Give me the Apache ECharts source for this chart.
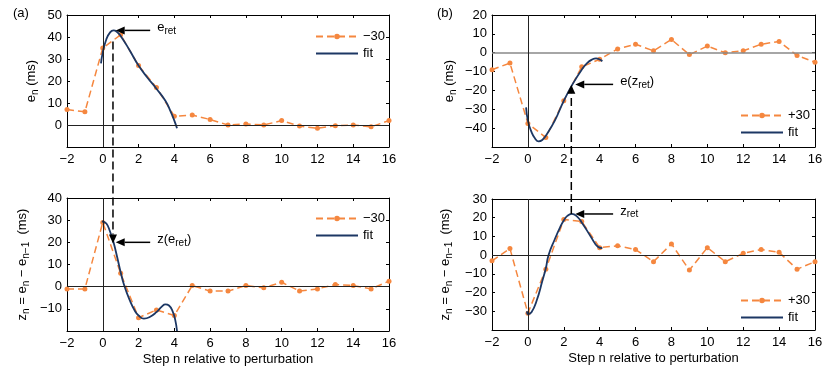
<!DOCTYPE html>
<html>
<head>
<meta charset="utf-8">
<script src="https://cdn.jsdelivr.net/npm/echarts@6/dist/echarts.min.js"></script>
<style>
html, body { margin: 0; padding: 0; background: #fff; }
#main { width: 830px; height: 372px; }
</style>
</head>
<body>
<div id="main"></div>
<script>
// step index relative to perturbation
const steps = [-2, -1, 0, 1, 2, 3, 4, 5, 6, 7, 8, 9, 10, 11, 12, 13, 14, 15, 16];

// (a) -30 perturbation
const eMinus30 = [7, 6, 35, 41, 27, 17, 4, 4.5, 2.5, 0, 0.5, 0, 2, -0.5, -1.5, -0.3, 0, -0.8, 2];
const zMinus30 = [-1, -1, 29, 6, -14, -10.5, -13, 0.5, -2, -2, 0.5, -0.5, 2, -2, -1, 1, 0.5, -1, 2.5];
// (b) +30 perturbation
const ePlus30 = [-9, -5.5, -37.5, -45, -25.5, -7.5, -3.5, 2, 4.5, 1, 7, -1, 3.5, 0, 1, 4.5, 6, -1.5, -5];
const zPlus30 = [-3, 3.5, -31, -7.5, 19, 18, 4, 5, 3, -3.5, 6, -8, 4, -3.5, 1, 3, 1.5, -7.5, -3.5];

// fitted curves
const fitAeX = [-0.1, 0, 0.2, 0.4, 0.6, 0.8, 1.0, 1.5, 2.0, 2.5, 3.0, 3.5, 3.8, 4.0, 4.15];
const fitAeY = [28, 33, 39, 42, 43, 42.3, 40.5, 34, 27, 21.5, 16.5, 11, 6, 2, -1.5];
const fitAzX = [-0.05, 0.2, 0.4, 0.6, 0.8, 1.0, 1.2, 1.5, 1.8, 2.0, 2.3, 2.6, 3.0, 3.3, 3.5, 3.7, 3.9, 4.05, 4.15];
const fitAzY = [29.5, 28.5, 25, 20, 13.5, 6.5, 0.5, -6, -11, -13, -14.4, -13.8, -11.5, -9, -8, -8.5, -11, -15, -20];
const fitBeX = [-0.1, 0, 0.2, 0.4, 0.6, 0.8, 1.0, 1.5, 2.0, 2.5, 3.0, 3.3, 3.6, 3.8, 4.0, 4.15];
const fitBeY = [-29, -36, -42, -45.5, -47, -46.3, -44, -36, -25.5, -16.5, -9, -5.5, -3.5, -3, -3.6, -4.5];
const fitBzX = [-0.05, 0, 0.2, 0.5, 0.8, 1.0, 1.15, 1.5, 1.8, 2.0, 2.2, 2.45, 2.7, 3.0, 3.5, 3.9, 4.15];
const fitBzY = [-30, -31.5, -30.5, -24, -14, -7, 0, 8.5, 15, 18.5, 21, 22, 21, 17.5, 10, 4.5, 3.8];

// annotation points
const retA = { x: 0.57, eFrom: 38, zTip: 19.5, ePeak: 43, zAt: 20, tailX: 2.65, headX: 0.72 };
const retB = { x: 2.42, zFrom: 22, eTip: -17, eAt: -16.8, zPeak: 22, tailX: 4.75, headX: 2.64 };

const ORANGE = '#f5873f';
const NAVY = '#1c3764';
const FONT = "'Liberation Sans', Arial, sans-serif";

const grids = [
  { left: 67, top: 15, width: 322, height: 132 },
  { left: 67, top: 198, width: 322, height: 133 },
  { left: 492, top: 15, width: 323, height: 132 },
  { left: 492, top: 199, width: 323, height: 131 }
];
const yRanges = [[-10, 50], [-20, 40], [-50, 20], [-40, 30]];

const sub = { fontSize: 10, fontFamily: FONT, padding: [7, 0, 0, 0] };
const big = { fontSize: 13, fontFamily: FONT };
const eName = '{b|e}{s|n}{b| (ms)}';
const zName = '{b|z}{s|n}{b| = e}{s|n}{b| \u2212 e}{s|n\u22121}{b|  (ms)}';
const yNames = [eName, zName, eName, zName];
const yGaps = [27, 36, 34, 38];

const minus = v => String(v).replace('-', '\u2212');

const xAxes = [];
const yAxes = [];
grids.forEach((g, i) => {
  const bottom = i === 1 || i === 3;
  xAxes.push({
    type: 'value', gridIndex: i, min: -2, max: 16, interval: 2,
    axisLine: { show: true, onZero: false, lineStyle: { color: '#000', width: 1 } },
    axisTick: { inside: true, length: 3, lineStyle: { color: '#000' } },
    axisLabel: { margin: 6, fontSize: 13, color: '#000', fontFamily: FONT, formatter: minus },
    splitLine: { show: false },
    name: bottom ? 'Step n relative to perturbation' : '',
    nameLocation: 'middle', nameGap: 22,
    nameTextStyle: { fontSize: 13, color: '#000', fontFamily: FONT }
  });
  yAxes.push({
    type: 'value', gridIndex: i, min: yRanges[i][0], max: yRanges[i][1], interval: 10,
    axisLine: { show: true, onZero: false, lineStyle: { color: '#000', width: 1 } },
    axisTick: { inside: true, length: 3, lineStyle: { color: '#000' } },
    axisLabel: { margin: 5, fontSize: 13, color: '#000', fontFamily: FONT, formatter: minus, showMinLabel: false },
    splitLine: { show: false },
    name: yNames[i], nameLocation: 'middle', nameGap: yGaps[i], nameRotate: 90,
    nameTextStyle: { color: '#000', rich: { b: big, s: sub } }
  });
});
// mirror axes for the box (top and right)
grids.forEach((g, i) => {
  xAxes.push({
    type: 'value', gridIndex: i, position: 'top', min: -2, max: 16, interval: 2,
    axisLine: { show: true, onZero: false, lineStyle: { color: '#000', width: 1 } },
    axisTick: { inside: true, length: 3, lineStyle: { color: '#000' } },
    axisLabel: { show: false }, splitLine: { show: false }
  });
  yAxes.push({
    type: 'value', gridIndex: i, position: 'right', min: yRanges[i][0], max: yRanges[i][1], interval: 10,
    axisLine: { show: true, onZero: false, lineStyle: { color: '#000', width: 1 } },
    axisTick: { inside: true, length: 3, lineStyle: { color: '#000' } },
    axisLabel: { show: false }, splitLine: { show: false }
  });
});

const pair = (xs, ys) => xs.map((x, i) => [x, ys[i]]);

function dataSeries(i, name, values, zeroColor, zeroWidth) {
  return {
    type: 'line', name: name, xAxisIndex: i, yAxisIndex: i,
    data: pair(steps, values),
    symbol: 'circle', symbolSize: 5, showSymbol: true,
    lineStyle: { color: ORANGE, width: 1.5, type: [7, 4] },
    itemStyle: { color: ORANGE },
    z: 3,
    markLine: {
      silent: true, symbol: 'none', label: { show: false }, animation: false,
      lineStyle: { color: zeroColor, width: zeroWidth, type: 'solid' },
      data: [{ yAxis: 0 }, { xAxis: 0, lineStyle: { color: '#222', width: 1 } }]
    }
  };
}
function fitSeries(i, xs, ys) {
  return {
    type: 'line', name: 'fit', xAxisIndex: i, yAxisIndex: i,
    data: pair(xs, ys), smooth: true, symbol: 'none', showSymbol: false,
    lineStyle: { color: NAVY, width: 1.8 }, itemStyle: { color: NAVY }, z: 4
  };
}

const series = [
  dataSeries(0, '\u221230', eMinus30, '#222', 1), fitSeries(0, fitAeX, fitAeY),
  dataSeries(1, '\u221230', zMinus30, '#222', 1), fitSeries(1, fitAzX, fitAzY),
  dataSeries(2, '+30', ePlus30, '#888', 1.5), fitSeries(2, fitBeX, fitBeY),
  dataSeries(3, '+30', zPlus30, '#222', 1), fitSeries(3, fitBzX, fitBzY)
];

const fitEntry = { name: 'fit', itemStyle: { opacity: 0 } };
const legendBase = {
  orient: 'vertical', itemWidth: 42, itemHeight: 7, itemGap: 4,
  textStyle: { fontSize: 13, color: '#000', fontFamily: FONT },
  selectedMode: false
};
const legends = [
  Object.assign({}, legendBase, { data: ['\u221230', fitEntry], left: 310, top: 25 }),
  Object.assign({}, legendBase, { data: ['\u221230', fitEntry], left: 310, top: 207 }),
  Object.assign({}, legendBase, { data: ['+30', fitEntry], left: 735, top: 104 }),
  Object.assign({}, legendBase, { data: ['+30', fitEntry], left: 735, top: 289 })
];

const chart = echarts.init(document.getElementById('main'));
chart.setOption({
  animation: false,
  textStyle: { fontFamily: FONT },
  grid: grids,
  xAxis: xAxes,
  yAxis: yAxes,
  legend: legends,
  series: series
});

// annotations drawn in data coordinates through the axes
function px(g, x, y) {
  return chart.convertToPixel({ xAxisIndex: g, yAxisIndex: g }, [x, y]);
}
function arrow(p0, p1, dashed) {
  const dx = p1[0] - p0[0], dy = p1[1] - p0[1];
  const len = Math.sqrt(dx * dx + dy * dy);
  const ux = dx / len, uy = dy / len;
  const L = 9, W = 4;
  const bx = p1[0] - ux * L, by = p1[1] - uy * L;
  return [
    {
      type: 'line', z: 10,
      shape: { x1: p0[0], y1: p0[1], x2: bx, y2: by },
      style: { stroke: '#000', lineWidth: 1.5, lineDash: dashed ? [8, 4] : null }
    },
    {
      type: 'polygon', z: 10,
      shape: { points: [p1, [bx - uy * W, by + ux * W], [bx + uy * W, by - ux * W]] },
      style: { fill: '#000' }
    }
  ];
}
function label(p, text) {
  return {
    type: 'text', z: 10, x: p[0] + 7, y: p[1] - 3,
    style: {
      text: text, verticalAlign: 'middle', fill: '#000',
      rich: { b: big, s: sub }
    }
  };
}

const g = [];
g.push(...arrow(px(0, retA.x, retA.eFrom), px(1, retA.x, retA.zTip), true));
g.push(...arrow(px(0, retA.tailX, retA.ePeak), px(0, retA.headX, retA.ePeak), false));
g.push(...arrow(px(1, retA.tailX, retA.zAt), px(1, retA.headX, retA.zAt), false));
g.push(...arrow(px(3, retB.x, retB.zFrom), px(2, retB.x, retB.eTip), true));
g.push(...arrow(px(2, retB.tailX, retB.eAt), px(2, retB.headX, retB.eAt), false));
g.push(...arrow(px(3, retB.tailX, retB.zPeak), px(3, retB.headX, retB.zPeak), false));
g.push(label(px(0, retA.tailX, retA.ePeak), '{b|e}{s|ret}'));
g.push(label(px(1, retA.tailX, retA.zAt), '{b|z(e}{s|ret}{b|)}'));
g.push(label(px(2, retB.tailX, retB.eAt), '{b|e(z}{s|ret}{b|)}'));
g.push(label(px(3, retB.tailX, retB.zPeak), '{b|z}{s|ret}'));
g.push({ type: 'text', left: 13, top: 7, style: { text: '(a)', fontSize: 13, fontFamily: FONT, fill: '#000' } });
g.push({ type: 'text', left: 437, top: 7, style: { text: '(b)', fontSize: 13, fontFamily: FONT, fill: '#000' } });

chart.setOption({ graphic: g });
</script>
</body>
</html>
